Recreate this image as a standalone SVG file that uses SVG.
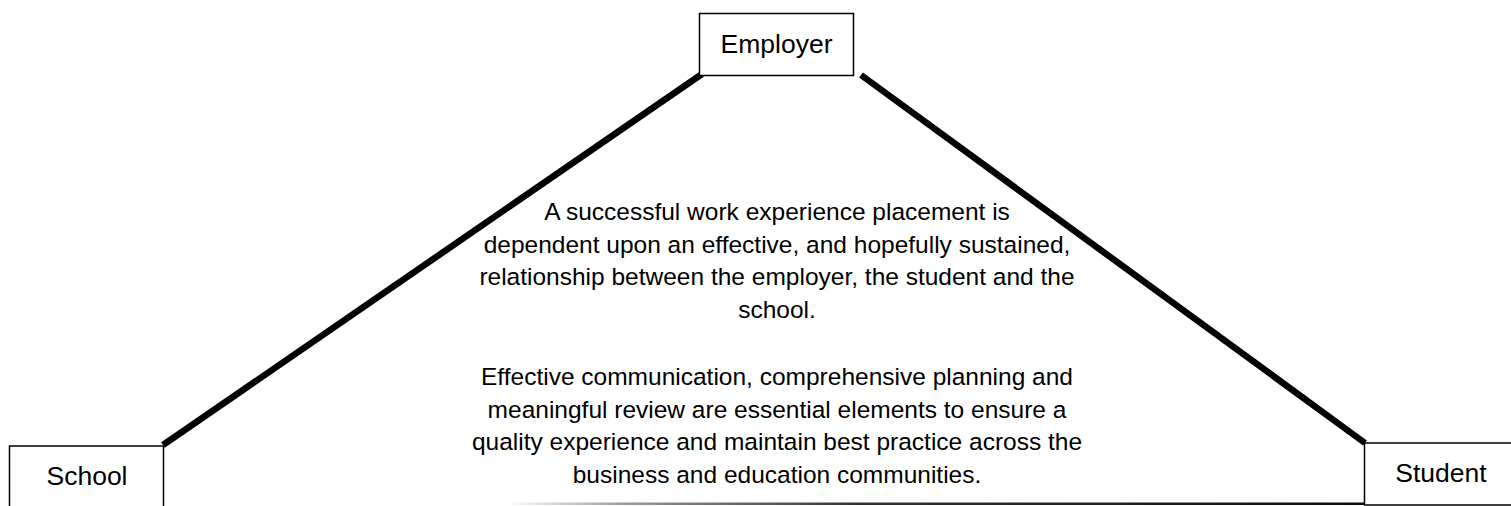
<svg xmlns="http://www.w3.org/2000/svg" width="1511" height="506" viewBox="0 0 1511 506">
  <style>
    .box { fill: #ffffff; stroke: #000000; stroke-width: 1.5; }
    .lbl { font-family: "Liberation Sans", Arial, sans-serif; font-size: 26.5px; fill: #000000; text-anchor: middle; }
    .body { font-family: "Liberation Sans", Arial, sans-serif; font-size: 24.5px; fill: #000000; text-anchor: middle; }
    .conn { stroke: #000000; stroke-width: 6.5; stroke-linecap: butt; fill: none; }
  </style>
  <defs>
    <linearGradient id="baseGrad" gradientUnits="userSpaceOnUse" x1="505" y1="0" x2="1511" y2="0">
      <stop offset="0" stop-color="#ffffff"/>
      <stop offset="0.12" stop-color="#999999"/>
      <stop offset="0.35" stop-color="#333333"/>
      <stop offset="1" stop-color="#000000"/>
    </linearGradient>
  </defs>
  <rect width="1511" height="506" fill="#ffffff"/>

  <g id="connectors">
    <line class="conn" x1="163" y1="445" x2="702" y2="74"/>
    <line class="conn" x1="861" y1="75" x2="1365" y2="443"/>
  </g>

  <g id="base-line">
    <rect x="505" y="502.5" width="1006" height="2.5" fill="url(#baseGrad)"/>
  </g>

  <g id="description">
    <text class="body" x="777" y="220">A successful work experience placement is</text>
    <text class="body" x="777" y="252.5">dependent upon an effective, and hopefully sustained,</text>
    <text class="body" x="777" y="285">relationship between the employer, the student and the</text>
    <text class="body" x="777" y="317.5">school.</text>
    <text class="body" x="777" y="385">Effective communication, comprehensive planning and</text>
    <text class="body" x="777" y="417.5">meaningful review are essential elements to ensure a</text>
    <text class="body" x="777" y="450">quality experience and maintain best practice across the</text>
    <text class="body" x="777" y="482.5">business and education communities.</text>
  </g>

  <g id="employer">
    <rect class="box" x="699.5" y="13.5" width="154" height="62"/>
    <text class="lbl" x="776.5" y="53">Employer</text>
  </g>

  <g id="school">
    <rect class="box" x="9.5" y="446" width="154" height="62"/>
    <text class="lbl" x="87" y="485">School</text>
  </g>

  <g id="student">
    <rect class="box" x="1364.5" y="443" width="154" height="62"/>
    <text class="lbl" x="1441" y="482">Student</text>
  </g>
</svg>
